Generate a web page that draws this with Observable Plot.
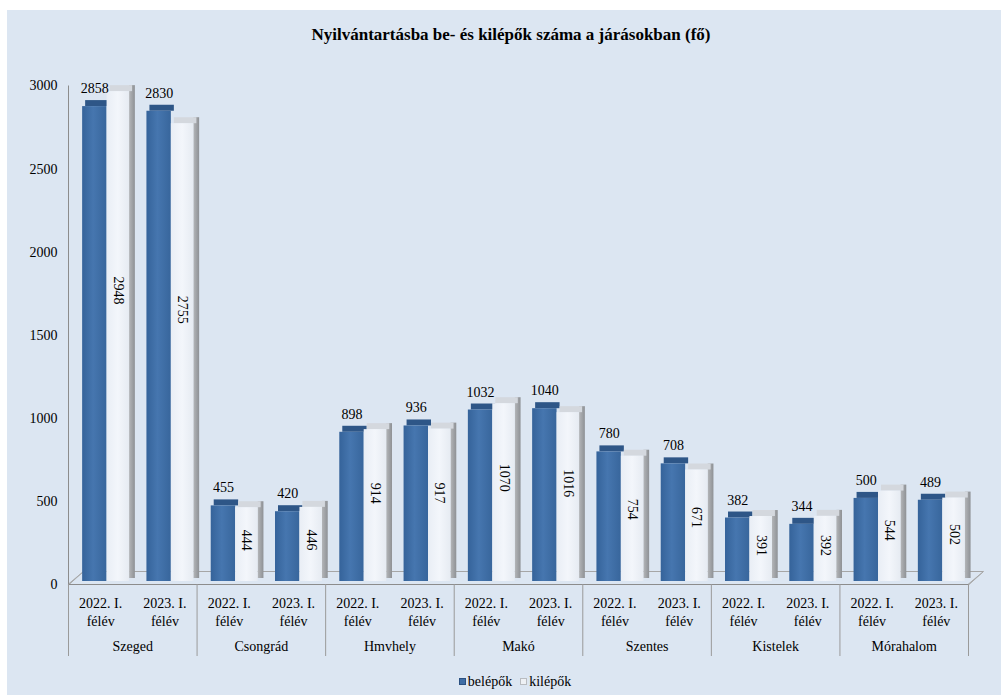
<!DOCTYPE html>
<html>
<head>
<meta charset="utf-8">
<script src="https://cdn.jsdelivr.net/npm/d3@7"></script>
<script src="https://cdn.jsdelivr.net/npm/@observablehq/plot@0.6"></script>
<style>
  body { margin: 0; background: #ffffff; }
  #wrap { position: absolute; left: 7px; top: 10px; width: 994px; height: 685px; background: #dce6f2;
          font-family: "Liberation Serif", "Times New Roman", serif; color: #000; }
  #chart { position: absolute; left: 0; top: 0; }
  #title { position: absolute; left: 0; top: 15px; width: 100%; box-sizing: border-box; padding-left: 14px;
           text-align: center; font-weight: bold; font-size: 17px; line-height: 20px; }
  #legend { position: absolute; left: 0; top: 663px; width: 100%; box-sizing: border-box; padding-left: 22px;
            text-align: center; font-size: 14px; line-height: 18px; }
  .sw { display: inline-block; width: 7px; height: 7px; margin-right: 2px; vertical-align: 1px; }
  .item { margin: 0 4px; }
</style>
</head>
<body>
<div id="wrap">
  <div id="chart"></div>
  <div id="title">Nyilvántartásba be- és kilépők száma a járásokban (fő)</div>
  <div id="legend"></div>
</div>
<script>
// ---- data ----
const districts = ["Szeged", "Csongrád", "Hmvhely", "Makó", "Szentes", "Kistelek", "Mórahalom"];
const periodLine1 = ["2022. I.", "2023. I."];
const periodLine2 = ["félév", "félév"];
const series = ["belépők", "kilépők"];
const belepok = [2858, 2830, 455, 420, 898, 936, 1032, 1040, 780, 708, 382, 344, 500, 489];
const kilepok = [2948, 2755, 444, 446, 914, 917, 1070, 1016, 754, 671, 391, 392, 544, 502];
const yTicks = [0, 500, 1000, 1500, 2000, 2500, 3000];

// ---- derived table ----
const rows = belepok.map((v, i) => ({
  i, district: districts[Math.floor(i / 2)], period: periodLine1[i % 2] + " " + periodLine2[i % 2],
  be: v, ki: kilepok[i]
}));
const nSlots = rows.length;
const boundaries = d3.range(0, nSlots + 1, 2);
const slotCenters = d3.range(nSlots).map(i => i + 0.5);
const districtCenters = districts.map((d, k) => 2 * k + 1);

const blueL = 0.22, mid = 0.6, whiteR = 0.95, side = 0.09;
const fontSize = 14;
const serif = "'Liberation Serif', 'Times New Roman', serif";

const svg = Plot.plot({
  width: 994,
  height: 685,
  marginLeft: 61,
  marginRight: 33,
  marginTop: 75.5,
  marginBottom: 111,
  style: { fontFamily: serif, fontSize: "14px", background: "transparent", color: "#000" },
  x: { type: "linear", domain: [0, nSlots], axis: null, label: null },
  y: { domain: [0, 3000], axis: null, label: null },
  marks: [
    // floor (back edge & slants)
    Plot.ruleY([0], { dx: 15, dy: -13, stroke: "#a6a6a6" }),
    Plot.vector([0, nSlots], { x: d => d, y: 0, length: 20, rotate: 49, anchor: "start", shape: "spike", r: 0.4, fill: "#a6a6a6", stroke: "#a6a6a6", strokeWidth: 0.8 }),
    // left wall line & front floor edge
    Plot.ruleX([0], { stroke: "#8c8c8c" }),
    Plot.ruleY([0], { stroke: "#8c8c8c" }),
    // y axis
    Plot.axisY({ ticks: yTicks, tickSize: 0, tickPadding: 11, fontSize, fill: "#000", fontFamily: serif, tickFormat: d => String(d) }),
    // category separators
    Plot.axisX({ ticks: boundaries, tickSize: 72, tickFormat: () => "", stroke: "#9a9a9a" }),
    // category labels
    Plot.axisX({ ticks: slotCenters, tickSize: 0, tickPadding: 14, fontSize, fill: "#000", fontFamily: serif, tickFormat: v => periodLine1[Math.floor(v) % 2] }),
    Plot.axisX({ ticks: slotCenters, tickSize: 0, tickPadding: 32, fontSize, fill: "#000", fontFamily: serif, tickFormat: v => periodLine2[Math.floor(v) % 2] }),
    Plot.axisX({ ticks: districtCenters, tickSize: 0, tickPadding: 57, fontSize, fill: "#000", fontFamily: serif, tickFormat: v => districts[(v - 1) / 2] }),
    // belépők bars: top cap + front
    Plot.rectY(rows, { x1: d => d.i + blueL, x2: d => d.i + mid, y1: d => d.be, y2: d => d.be, insetTop: -6, dx: 3, dy: -3, fill: "#2e5687" }),
    Plot.rectY(rows, { x1: d => d.i + blueL, x2: d => d.i + mid, y1: 0, y2: d => d.be, dy: -3, fill: "url(#gBlue)" }),
    // kilépők bars: side + top cap + front
    Plot.rectY(rows, { x1: d => d.i + whiteR, x2: d => d.i + whiteR + side, y1: 0, y2: d => d.ki, insetTop: -6, insetBottom: 3, dy: -3, fill: "url(#gSide)" }),
    Plot.rectY(rows, { x1: d => d.i + mid, x2: d => d.i + whiteR, y1: d => d.ki, y2: d => d.ki, insetTop: -6, dx: 3, dy: -3, fill: "#d4d8de" }),
    Plot.rectY(rows, { x1: d => d.i + mid, x2: d => d.i + whiteR, y1: 0, y2: d => d.ki, dy: -3, fill: "url(#gWhite)" }),
    // value labels
    Plot.text(rows, { x: d => d.i + (blueL + mid) / 2, y: "be", text: d => String(d.be), dy: -21, fontSize, fontFamily: serif, fill: "#000" }),
    Plot.text(rows, { x: d => d.i + (mid + whiteR) / 2, y: d => d.ki * 0.6, text: d => String(d.ki), rotate: 90, fontSize, fontFamily: serif, fill: "#000" })
  ]
});

d3.select(svg).insert("defs", ":first-child").html(`
  <linearGradient id="gBlue" x1="0" x2="1" y1="0" y2="0">
    <stop offset="0" stop-color="#35639a"/>
    <stop offset="0.45" stop-color="#4676af"/>
    <stop offset="1" stop-color="#38669c"/>
  </linearGradient>
  <linearGradient id="gWhite" x1="0" x2="1" y1="0" y2="0">
    <stop offset="0" stop-color="#e9eef5"/>
    <stop offset="0.5" stop-color="#f3f6fb"/>
    <stop offset="1" stop-color="#e6ebf2"/>
  </linearGradient>
  <linearGradient id="gSide" x1="0" x2="1" y1="0" y2="0">
    <stop offset="0" stop-color="#b4b6b9"/>
    <stop offset="1" stop-color="#8e9195"/>
  </linearGradient>
`);
document.getElementById("chart").appendChild(svg);

// legend
const swatchStyles = ["background:#3f6ea6;border:1px solid #2b5081;box-sizing:border-box;", "background:#eef1f5;border:1px solid #b9bcc0;box-sizing:border-box;"];
document.getElementById("legend").innerHTML = series.map((s, k) =>
  `<span class="item"><span class="sw" style="${swatchStyles[k]}"></span>${s}</span>`).join("");
</script>
</body>
</html>
